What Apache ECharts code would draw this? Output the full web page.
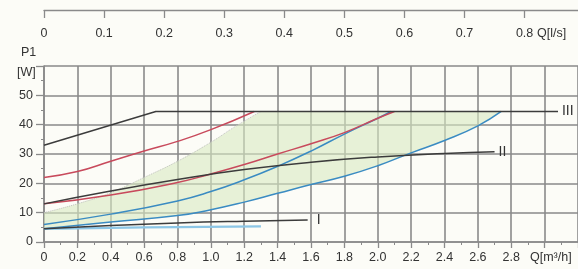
<!DOCTYPE html>
<html><head><meta charset="utf-8">
<script src="https://cdn.jsdelivr.net/npm/echarts@6/dist/echarts.min.js"></script>
<style>html,body{margin:0;padding:0;background:#fcfcf7}#c{width:578px;height:269px}</style>
</head><body><div id="c"></div>
<script>
// Data: Q in m3/h, P1 in W
const xTickLabels = [0,0.2,0.4,0.6,0.8,1.0,1.2,1.4,1.6,1.8,2.0,2.2,2.4,2.6,2.8];
const topTickLabels = [0,0.1,0.2,0.3,0.4,0.5,0.6,0.7,0.8];
const yTickLabels = [0,10,20,30,40,50];
const curveIII = [[0,33],[0.67,44.5],[3.08,44.5]];
const curveII = [[0,13],[0.4,17.4],[0.8,21.3],[1.2,24.7],[1.6,27.2],[2.0,29],[2.4,30.2],[2.7,30.8]];
const curveI = [[0,4.5],[0.4,5.6],[0.8,6.5],[1.2,7.1],[1.58,7.5]];
const redUpper = [[0,22],[0.2,24],[0.4,27.5],[0.6,31],[0.8,34.3],[1.0,38.3],[1.26,44.5]];
const redLower = [[0,13],[0.4,16],[0.8,20.3],[1.0,23.2],[1.2,26.4],[1.4,30],[1.6,33.5],[1.8,37.3],[2.0,42.2],[2.1,44.5]];
const blueInner = [[0,6],[0.4,9.5],[0.8,14],[1.0,17.2],[1.2,21.2],[1.4,25.8],[1.6,31],[1.8,36.8],[2.0,42.2],[2.08,44.5]];
const blueOuter = [[0,4.5],[0.4,6.8],[0.8,9],[1.0,11],[1.2,13.6],[1.4,16.6],[1.6,19.6],[1.8,22.4],[2.0,26],[2.2,30.4],[2.4,34.6],[2.6,39.6],[2.74,44.5]];
const lightBlue = [[0,4.5],[0.4,4.8],[0.8,5.1],[1.3,5.3]];
const rangeEdge = [[0,10],[0.2,13],[0.4,16.8],[0.6,22],[0.8,27.5],[1.0,34],[1.15,39.5],[1.3,44.5]];

const polygon = rangeEdge.concat(blueOuter.slice().reverse());
const FONT = 'Liberation Sans';
const GRID = '#8a8a8a';
const chart = echarts.init(document.getElementById('c'));
function lineS(data, color, width, label, dist) {
  const s = {type:'line', data, smooth:true, showSymbol:false, symbol:'none', silent:true,
    lineStyle:{color, width}, xAxisIndex:0, yAxisIndex:0, z:3};
  if (label) s.endLabel = {show:true, formatter:label, color:'#333', fontFamily:FONT, fontSize:14, distance:dist};
  return s;
}
chart.setOption({
  backgroundColor:'#fcfcf7',
  animation:false,
  grid:[{left:44, right:0, top:66, bottom:27}, {left:44, right:0, top:9, height:1}],
  xAxis:[{
    type:'value', gridIndex:0, min:0, max:3.2, interval:0.2,
    axisLine:{show:true, lineStyle:{color:GRID, width:1.6}},
    axisTick:{show:true, length:6, lineStyle:{color:GRID, width:1.3}},
    minorTick:{show:true, splitNumber:2, length:3, lineStyle:{color:GRID}},
    splitLine:{show:true, lineStyle:{color:GRID, width:1.6}},
    axisLabel:{customValues:xTickLabels, formatter:v=>v===0?'0':v.toFixed(1), color:'#333', fontFamily:FONT, fontSize:12.5, margin:9}
  },{
    type:'value', gridIndex:1, min:0, max:3.2/3.6, position:'bottom',
    axisLine:{show:true, lineStyle:{color:GRID, width:1.3}},
    axisTick:{show:true, customValues:topTickLabels, length:8, lineStyle:{color:GRID, width:1.3}},
    splitLine:{show:false},
    axisLabel:{customValues:topTickLabels, formatter:v=>v===0?'0':v.toFixed(1), color:'#333', fontFamily:FONT, fontSize:12.5, margin:17}
  }],
  yAxis:[{
    type:'value', gridIndex:0, min:0, max:60, interval:10,
    axisLine:{show:true, lineStyle:{color:GRID, width:1.6}},
    axisTick:{show:true, length:8, lineStyle:{color:GRID, width:1.3}},
    minorTick:{show:true, splitNumber:2, length:3, lineStyle:{color:GRID}},
    splitLine:{show:true, lineStyle:{color:GRID, width:1.6}},
    axisLabel:{customValues:yTickLabels, color:'#333', fontFamily:FONT, fontSize:12.5, margin:11}
  },{type:'value', gridIndex:1, show:false}],
  graphic:[
    {type:'text', left:21, top:46, style:{text:'P1', fill:'#333', font:'12.5px "Liberation Sans"'}},
    {type:'text', left:17, top:66, style:{text:'[W]', fill:'#333', font:'12.5px "Liberation Sans"'}},
    {type:'text', left:537, top:27, style:{text:'Q[l/s]', fill:'#333', font:'12.5px "Liberation Sans"'}},
    {type:'text', left:530, top:251, style:{text:'Q[m³/h]', fill:'#333', font:'12.5px "Liberation Sans"'}}
  ],
  series:[
    {type:'custom', xAxisIndex:0, yAxisIndex:0, silent:true, z:1, data:[0],
      renderItem:(params, api)=>({type:'polygon', shape:{points:polygon.map(p=>api.coord(p))},
        style:{fill:'#d9e9c2', opacity:0.6}})},
    Object.assign(lineS(rangeEdge, '#c9c9c9', 1), {lineStyle:{color:'#c4c4c4', width:1, type:'dotted'}}),
    lineS(lightBlue, '#8cc6e6', 2.2),
    lineS(blueOuter, '#3a8bc2', 1.5),
    lineS(blueInner, '#3a8bc2', 1.5),
    lineS(redLower, '#c84a5c', 1.5),
    lineS(redUpper, '#c84a5c', 1.5),
    Object.assign(lineS(curveIII, '#3c3c3c', 1.5, 'III', 4), {smooth:false}),
    lineS(curveII, '#3c3c3c', 1.5, 'II', 4),
    lineS(curveI, '#3c3c3c', 1.5, 'I', 9)
  ]
});
</script></body></html>
